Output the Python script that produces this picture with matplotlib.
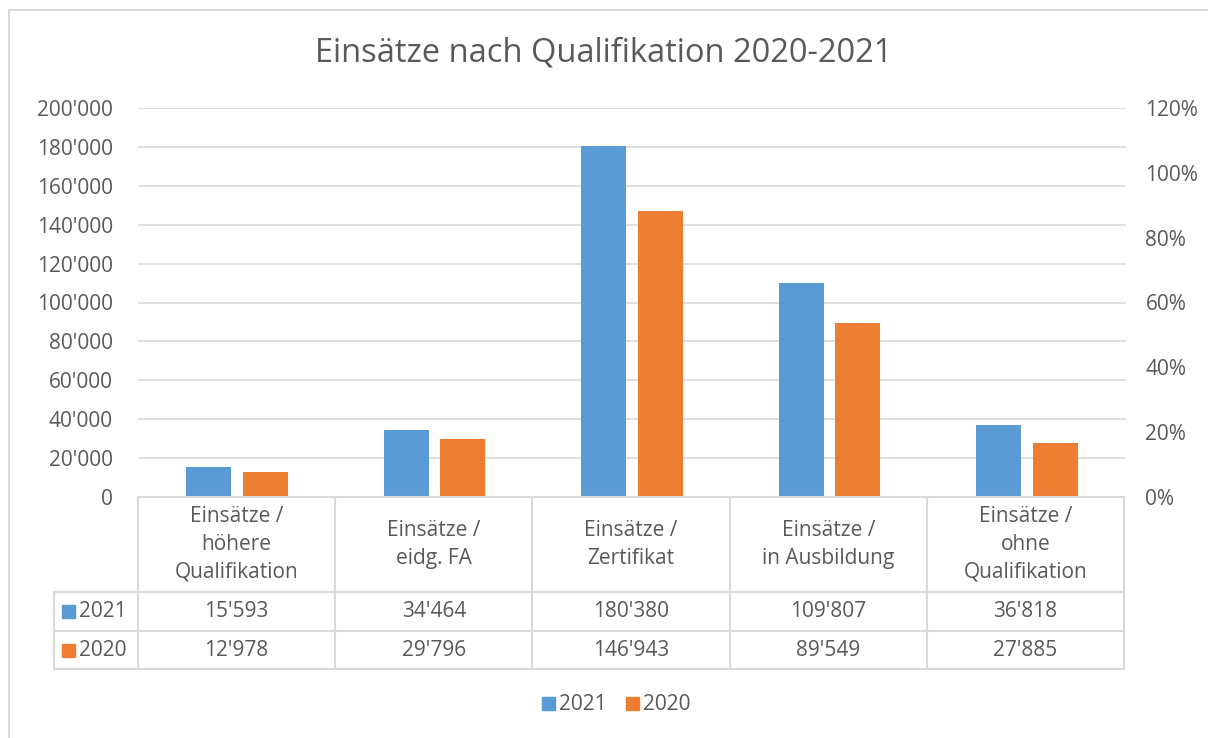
import matplotlib.pyplot as plt
from matplotlib.patches import Rectangle
from matplotlib.lines import Line2D
from matplotlib.ticker import FuncFormatter

plt.rcParams['font.family'] = ['Open Sans', 'DejaVu Sans']

categories = ['Einsätze /\nhöhere\nQualifikation', 'Einsätze /\neidg. FA',
              'Einsätze /\nZertifikat', 'Einsätze /\nin Ausbildung',
              'Einsätze /\nohne\nQualifikation']
series_names = ['2021', '2020']
values_2021 = [15593, 34464, 180380, 109807, 36818]
values_2020 = [12978, 29796, 146943, 89549, 27885]

BLUE = '#5B9BD5'
ORANGE = '#ED7D31'
TXT = '#595959'
GRID = '#D9D9D9'
FS = 15

W, H = 1208, 738
fig = plt.figure(figsize=(W / 100, H / 100), dpi=100)


def fx(x):
    return x / W


def fy(y):
    return 1 - y / H


# outer chart frame (runs off the right and bottom edges)
fig.patches.append(Rectangle((fx(9), fy(760)), fx(1230) - fx(9), fy(10) - fy(760),
                             transform=fig.transFigure, fill=False, edgecolor=GRID, lw=1.5))

left, right, top, bottom = 138, 1126, 108, 497
ax = fig.add_axes([fx(left), fy(bottom), fx(right) - fx(left), fy(top) - fy(bottom)])
ax2 = ax.twinx()

n = len(categories)
xs = range(n)
bw = 0.228
off = 0.143
ax.bar([x - off for x in xs], values_2021, width=bw, color=BLUE, zorder=3)
ax.bar([x + off for x in xs], values_2020, width=bw, color=ORANGE, zorder=3)

ax.set_xlim(-0.5, n - 0.5)
ax.set_ylim(0, 200000)
ax.set_yticks(range(0, 200001, 20000))
ax.yaxis.set_major_formatter(FuncFormatter(lambda v, p: f'{int(v):,}'.replace(',', "'")))
ax.grid(axis='y', color=GRID, lw=1.2, zorder=0)
ax.set_xticks([])

ax2.set_ylim(0, 1.2)
ax2.set_yticks([i / 10 for i in range(0, 13, 2)])
ax2.yaxis.set_major_formatter(FuncFormatter(lambda v, p: f'{round(v * 100)}%'))

for a in (ax, ax2):
    for s in a.spines.values():
        s.set_visible(False)
    a.tick_params(length=0, labelsize=FS, labelcolor=TXT)
ax.tick_params(axis='y', pad=18)
ax2.tick_params(axis='y', pad=14)

fig.text(0.5, fy(53), 'Einsätze nach Qualifikation 2020-2021', ha='center', va='center',
         fontsize=23.5, color=TXT)

# data table
col_x = [left + i * (right - 2 - left) / n for i in range(n + 1)]
row_y = [497, 592, 631, 669]


def hline(y, x0, x1):
    fig.add_artist(Line2D([fx(x0), fx(x1)], [fy(y), fy(y)], transform=fig.transFigure,
                          color=GRID, lw=1.5))


def vline(x, y0, y1):
    fig.add_artist(Line2D([fx(x), fx(x)], [fy(y0), fy(y1)], transform=fig.transFigure,
                          color=GRID, lw=1.5))


hline(row_y[0], col_x[0], col_x[-1])
for y in row_y[1:]:
    hline(y, 54, col_x[-1])
vline(54, row_y[1], row_y[3])
for x in col_x:
    vline(x, row_y[0], row_y[3])

for i, cat in enumerate(categories):
    cx = (col_x[i] + col_x[i + 1]) / 2
    fig.text(fx(cx), fy((row_y[0] + row_y[1]) / 2), cat, ha='center', va='center',
             fontsize=FS, color=TXT, linespacing=1.42)

for r, (name, vals, col) in enumerate(zip(series_names, [values_2021, values_2020], [BLUE, ORANGE])):
    cy = (row_y[r + 1] + row_y[r + 2]) / 2
    fig.patches.append(Rectangle((fx(62), fy(cy + 6.5)), fx(13), 13 / H,
                                 transform=fig.transFigure, color=col))
    fig.text(fx(79), fy(cy), name, ha='left', va='center', fontsize=FS, color=TXT)
    for i, v in enumerate(vals):
        cx = (col_x[i] + col_x[i + 1]) / 2
        fig.text(fx(cx), fy(cy), f'{v:,}'.replace(',', "'"), ha='center', va='center',
                 fontsize=FS, color=TXT)

# legend
for name, col, x0 in [(series_names[0], BLUE, 542), (series_names[1], ORANGE, 626)]:
    fig.patches.append(Rectangle((fx(x0), fy(710)), fx(13), 13 / H,
                                 transform=fig.transFigure, color=col))
    fig.text(fx(x0 + 17), fy(704), name, ha='left', va='center', fontsize=FS, color=TXT)

fig.savefig('out.png', dpi=100)
